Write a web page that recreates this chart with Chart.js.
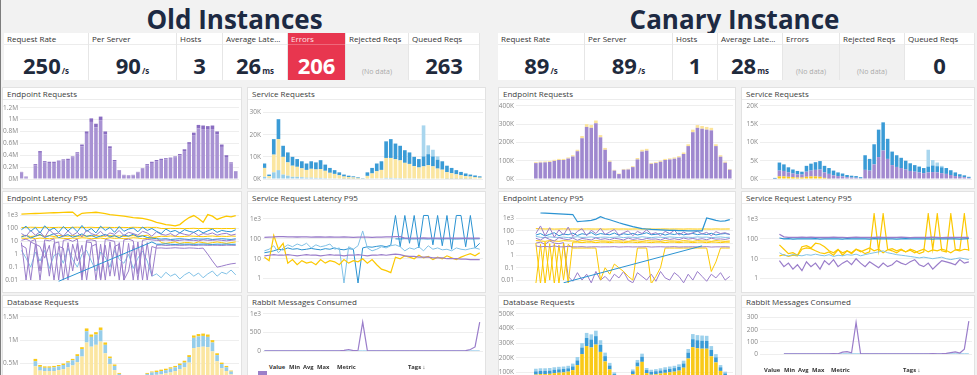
<!DOCTYPE html>
<html>
<head>
<meta charset="utf-8">
<script src="https://cdn.jsdelivr.net/npm/chart.js@4.4.0/dist/chart.umd.min.js"></script>
<style>
  body { margin:0; width:977px; height:375px; overflow:hidden; background:#f2f2f2; font-family:'Open Sans', sans-serif; position:relative; }
  .edge { position:absolute; left:0; top:0; width:1px; height:375px; background:#7d7d7d; }
  .title { position:absolute; top:6px; text-align:center; font-size:26px; font-weight:700; color:#1d2a43; line-height:26px; }
  .tile { position:absolute; top:33px; height:47px; background:#fff; border-right:1px solid #e6e6e6; box-sizing:border-box; }
  .tl { height:11px; line-height:12px; font-size:8px; padding-left:3px; color:#333; border-bottom:1px solid #ececec; white-space:nowrap; overflow:hidden; }
  .tv { position:absolute; left:0; right:0; top:12px; height:35px; text-align:center; font-size:22px; font-weight:700; line-height:41px; color:#1f2a3c; }
  .tv .u { font-size:8px; margin-left:1px; }
  .tv.nd { background:#f1f1f1; color:#aaa; font-size:7px; font-weight:400; line-height:54px; }
  .tile.err { background:#e8364f; }
  .tile.err .tl { color:#fde3e6; border-bottom-color:rgba(255,255,255,0.25); }
  .tile.err .tv { color:#fff; }
  .panel { position:absolute; background:#fff; border:1px solid #e2e2e2; box-sizing:border-box; }
  .pt { height:11px; line-height:12px; font-size:8px; padding-left:4px; color:#3d3d3d; border-bottom:1px solid #ececec; white-space:nowrap; }
  .cw { position:absolute; left:0; right:0; top:12px; }
  .lg { position:absolute; font-size:5.8px; font-weight:700; color:#333; line-height:8px; }
</style>
</head>
<body>
<div class="edge"></div>
<div class="title" style="left:0;width:469px">Old Instances</div>
<div class="title" style="left:492px;width:485px">Canary Instance</div>

<!-- old instances stats -->
<div class="tile" style="left:4px;width:85px"><div class="tl">Request Rate</div><div class="tv">250<span class="u">/s</span></div></div>
<div class="tile" style="left:89px;width:88px"><div class="tl">Per Server</div><div class="tv">90<span class="u">/s</span></div></div>
<div class="tile" style="left:177px;width:46px"><div class="tl">Hosts</div><div class="tv">3</div></div>
<div class="tile" style="left:223px;width:65px"><div class="tl">Average Late...</div><div class="tv">26<span class="u">ms</span></div></div>
<div class="tile err" style="left:288px;width:58px"><div class="tl">Errors</div><div class="tv">206</div></div>
<div class="tile" style="left:346px;width:63px"><div class="tl">Rejected Reqs</div><div class="tv nd">(No data)</div></div>
<div class="tile" style="left:409px;width:71px"><div class="tl">Queued Reqs</div><div class="tv">263</div></div>

<!-- canary stats -->
<div class="tile" style="left:498px;width:87px"><div class="tl">Request Rate</div><div class="tv">89<span class="u">/s</span></div></div>
<div class="tile" style="left:585px;width:88px"><div class="tl">Per Server</div><div class="tv">89<span class="u">/s</span></div></div>
<div class="tile" style="left:673px;width:45px"><div class="tl">Hosts</div><div class="tv">1</div></div>
<div class="tile" style="left:718px;width:65px"><div class="tl">Average Late...</div><div class="tv">28<span class="u">ms</span></div></div>
<div class="tile" style="left:783px;width:57px"><div class="tl">Errors</div><div class="tv nd">(No data)</div></div>
<div class="tile" style="left:840px;width:65px"><div class="tl">Rejected Reqs</div><div class="tv nd">(No data)</div></div>
<div class="tile" style="left:905px;width:70px"><div class="tl">Queued Reqs</div><div class="tv">0</div></div>

<!-- panels -->
<div class="panel" style="left:2px;top:87px;width:240px;height:102px"><div class="pt">Endpoint Requests</div><div class="cw" style="height:89px"><canvas id="oldEndpoint"></canvas></div></div>
<div class="panel" style="left:247px;top:87px;width:239px;height:102px"><div class="pt">Service Requests</div><div class="cw" style="height:89px"><canvas id="oldService"></canvas></div></div>
<div class="panel" style="left:2px;top:191px;width:240px;height:102px"><div class="pt">Endpoint Latency P95</div><div class="cw" style="height:89px"><canvas id="oldEndpointLat"></canvas></div></div>
<div class="panel" style="left:247px;top:191px;width:239px;height:102px"><div class="pt">Service Request Latency P95</div><div class="cw" style="height:89px"><canvas id="oldServiceLat"></canvas></div></div>
<div class="panel" style="left:2px;top:295px;width:240px;height:102px"><div class="pt">Database Requests</div><div class="cw" style="height:89px"><canvas id="oldDb"></canvas></div></div>
<div class="panel" style="left:247px;top:295px;width:239px;height:102px"><div class="pt">Rabbit Messages Consumed</div><div class="cw" style="height:53px"><canvas id="oldRabbit"></canvas></div></div>

<div class="panel" style="left:498px;top:87px;width:238px;height:102px"><div class="pt">Endpoint Requests</div><div class="cw" style="height:89px"><canvas id="canEndpoint"></canvas></div></div>
<div class="panel" style="left:741px;top:87px;width:234px;height:102px"><div class="pt">Service Requests</div><div class="cw" style="height:89px"><canvas id="canService"></canvas></div></div>
<div class="panel" style="left:498px;top:191px;width:238px;height:102px"><div class="pt">Endpoint Latency P95</div><div class="cw" style="height:89px"><canvas id="canEndpointLat"></canvas></div></div>
<div class="panel" style="left:741px;top:191px;width:234px;height:102px"><div class="pt">Service Request Latency P95</div><div class="cw" style="height:89px"><canvas id="canServiceLat"></canvas></div></div>
<div class="panel" style="left:498px;top:295px;width:238px;height:102px"><div class="pt">Database Requests</div><div class="cw" style="height:89px"><canvas id="canDb"></canvas></div></div>
<div class="panel" style="left:741px;top:295px;width:234px;height:102px"><div class="pt">Rabbit Messages Consumed</div><div class="cw" style="height:56px"><canvas id="canRabbit"></canvas></div></div>

<!-- rabbit legend headers -->
<div class="lg" style="left:269px;top:363px">Value</div>
<div class="lg" style="left:289px;top:363px">Min</div>
<div class="lg" style="left:303px;top:363px">Avg</div>
<div class="lg" style="left:317px;top:363px">Max</div>
<div class="lg" style="left:337px;top:363px">Metric</div>
<div class="lg" style="left:408px;top:363px">Tags ↓</div>
<div style="position:absolute;left:258px;top:371px;width:9px;height:6px;background:#9b7fc9"></div>
<div class="lg" style="left:764px;top:366px">Value</div>
<div class="lg" style="left:784px;top:366px">Min</div>
<div class="lg" style="left:798px;top:366px">Avg</div>
<div class="lg" style="left:812px;top:366px">Max</div>
<div class="lg" style="left:831px;top:366px">Metric</div>
<div class="lg" style="left:903px;top:366px">Tags ↓</div>

<script>
const _ = null;

// hourly buckets, hours since Wed 00:00
const hours = [
  4.5, 5.5, 6.5, 7.5, 8.5, 9.5, 10.5, 11.5, 12.5, 13.5,
  14.5, 15.5, 16.5, 17.5, 18.5, 19.5, 20.5, 21.5, 22.5, 23.5,
  24.5, 25.5, 26.5, 27.5, 28.5, 29.5, 30.5, 31.5, 32.5, 33.5,
  34.5, 35.5, 36.5, 37.5, 38.5, 39.5, 40.5, 41.5, 42.5, 43.5,
  44.5, 45.5, 46.5, 47.5, 48.5, 49.5, 50.5
];
const xTickHours = [12, 24, 36, 48];
const xTickLabels = ['12:00', 'Thu 16', '12:00', 'Fri 17'];

const mTicks = [0, 0.2, 0.4, 0.6, 0.8, 1, 1.2];
const mTickLabels = ['0M', '0.2M', '0.4M', '0.6M', '0.8M', '1M', '1.2M'];
const oldSvcTicks = [0, 10, 20, 30];
const oldSvcTickLabels = ['0K', '10K', '20K', '30K'];
const canEpTicks = [0, 100, 200, 300, 400];
const canEpTickLabels = ['0K', '100K', '200K', '300K', '400K'];
const canSvcTicks = [0, 5, 10, 15, 20];
const canSvcTickLabels = ['0K', '5K', '10K', '15K', '20K'];
const latTicks = [0.01, 0.1, 1, 10, 100, 1000];
const latTickLabels = ['0.01', '0.1', '1', '10', '100', '1e3'];
const oldDbTicks = [0, 0.5, 1, 1.5];
const oldDbTickLabels = ['0M', '0.5M', '1M', '1.5M'];
const canDbTicks = [0, 100, 200, 300, 400, 500];
const canDbTickLabels = ['0K', '100K', '200K', '300K', '400K', '500K'];
const oldRabbitTicks = [0, 500, 1000];
const oldRabbitTickLabels = ['0', '500', '1e3'];
const canRabbitTicks = [0, 100, 200, 300];
const canRabbitTickLabels = ['0', '100', '200', '300'];

// ---- old instances: endpoint requests (M)
const oldEpBase = [
  0.11, 0.03, _, 0.23, 0.44, 0.28, 0.27, 0.27, 0.29, 0.31,
  0.32, 0.36, 0.43, 0.55, 0.76, 0.96, 0.87, 0.99, 0.75, 0.52,
  0.30, 0.14, 0.06, 0.05, 0.06, 0.11, 0.17, 0.23, 0.27, 0.30,
  0.32, 0.33, 0.34, 0.36, 0.40, 0.47, 0.59, 0.73, 0.85, 0.84,
  0.83, 0.84, 0.75, 0.54, 0.37, 0.26, 0.12
];
const oldEpTop = [
  0.01, 0.01, _, 0.02, 0.03, 0.02, 0.02, 0.02, 0.02, 0.02,
  0.02, 0.02, 0.02, 0.03, 0.04, 0.06, 0.06, 0.06, 0.05, 0.03,
  0.02, 0.01, 0.01, 0.01, 0.01, 0.01, 0.01, 0.02, 0.02, 0.02,
  0.02, 0.02, 0.02, 0.02, 0.02, 0.03, 0.03, 0.05, 0.06, 0.06,
  0.06, 0.06, 0.05, 0.04, 0.03, 0.02, 0.01
];

// ---- old instances: service requests (K)
const oldSvcLightBlue = [
  1, 0.3, 3, 4, 2, 1.5, 1, 1, 0.8, 0.6,
  0.6, 0.5, 0.5, 0.4, 0.3, 0.3, 0.2, 0.1, 0.1, 0.1,
  0.1, 0, 0.2, 0.3, 0.3, 0.3, 0.5, 0.5, 0.4, 0.4,
  0.3, 0.3, 0.3, 0.2, 0.2, 0.2, 0.2, 0.2, 0.2, 0.1,
  0.1, 0.1, 0.1, 0.1, 0.1, 0, 0
];
const oldSvcYellow = [
  4, 1, 8, 14, 8, 6, 5, 4.5, 4, 3.5,
  4, 3.8, 4, 3.3, 2.5, 2, 1.5, 1, 0.8, 0.6,
  0.4, 0.15, 1.2, 2.2, 3.2, 3.8, 9, 9, 8.5, 8,
  7, 6.5, 5.5, 5, 5.5, 6, 5.5, 4.5, 4, 3,
  2.5, 2, 1.6, 1.2, 1, 0.8, 0.6
];
const oldSvcBlue = [
  2, 0.7, 7, 9, 5, 4.5, 4, 3.5, 3.2, 2.9,
  3.4, 3.2, 4, 2.8, 2.2, 1.7, 1.3, 0.9, 0.6, 0.5,
  0.3, 0.15, 1.6, 2.5, 3.5, 3.9, 7.5, 8.5, 7.1, 6.6,
  5.7, 5.2, 4.2, 3.8, 4.5, 5, 4.5, 4, 3.8, 2.9,
  2.4, 1.9, 1.5, 1.2, 0.9, 0.8, 0.6
];
const oldSvcSpike = [
  0, 0, 0, 0, 0, 0, 0, 0, 0, 0,
  0, 0, 0, 0, 0, 0, 0, 0, 0, 0,
  0, 0, 0, 0, 0, 0, 0, 0, 0, 0,
  0, 0, 0, 0, 14, 4, 3, 1.5, 0, 0,
  0, 0, 0, 0, 0, 0, 0
];

// ---- old instances: endpoint latency p95
const oldLatYellowTop = [
  1300, 1350, 1400, 1450, 1500, 1550, 1600, 1650, 1700, 1750,
  1800, 1850, 900, 1500, 1600, 1700, 1800, 1600, 1400, 1200,
  1100, 1000, 900, 800, 700, 650, 600, 500, 400, 300,
  250, 200, 180, 160, 200, 400, 700, 1000, 600, 300,
  1200, 900, 500, 700, 900, 800, 1000
];
const oldLatYellow120 = [
  120, 118, 125, 122, 119, 124, 121, 118, 123, 120,
  117, 122, 125, 119, 121, 124, 118, 120, 123, 121,
  119, 122, 120, 118, 124, 121, 117, 123, 120, 122,
  100, 98, 102, 99, 101, 97, 100, 103, 98, 100,
  102, 99, 101, 97, 100, 98, 102
];
const oldLatBlue = [
  80, 150, 60, 120, 45, 160, 70, 110, 50, 140,
  65, 130, 55, 170, 60, 100, 45, 150, 70, 120,
  50, 140, 60, 90, 110, 55, 130, 70, 100, 60,
  40, 90, 55, 70, 45, 80, 60, 50, 75, 45,
  65, 90, 50, 70, 60, 55, 80
];
const oldLatBlue20 = [
  22, 30, 18, 25, 35, 20, 28, 40, 19, 26,
  33, 21, 27, 38, 24, 30, 20, 26, 35, 22,
  28, 19, 31, 25, 36, 22, 27, 20, 18, 16,
  15, 16, 14, 15, 16, 15, 14, 16, 15, 15,
  16, 14, 15, 16, 15, 14, 16
];
const oldLatPurple = [
  40, 25, 70, 30, 55, 20, 80, 35, 45, 25,
  65, 30, 50, 22, 75, 40, 30, 60, 25, 45,
  35, 70, 28, 50, 40, 30, 60, 45, 25, 55,
  35, 30, 40, 25, 45, 35, 30, 50, 28, 40,
  35, 45, 30, 38, 42, 30, 36
];
const oldLatPurple12 = [
  12, 15, 10, 14, 0.05, 13, 11, 16, 0.01, 12,
  14, 10, 15, 0.02, 12, 13, 11, 0.01, 14, 12,
  10, 0.01, 13, 15, 11, 0.03, 12, 14, 13, 12,
  12, 13, 12, 11, 12, 13, 12, 12, 11, 13,
  12, 12, 13, 12, 11, 12, 13
];
const oldLatYellow17 = [
  18, 17, 19, 16, 18, 17, 16, 18, 19, 17,
  16, 18, 17, 19, 18, 16, 17, 18, 16, 19,
  17, 18, 16, 17, 19, 18, 16, 17, 18, 19,
  8, 7, 8, 9, 7, 8, 8, 7, 9, 8,
  7, 8, 9, 8, 7, 8, 9
];
const oldLatPurpleDrop = [
  8, 0.01, 9, 6, 0.01, 8, 0.02, 7, 9, 0.01,
  8, 0.05, 7, 0.01, 9, 8, 0.01, 6, 0.01, 9,
  0.02, 8, 0.01, 7, 0.01, 9, 0.01, 8, 0.02, 5,
  5.2, 4.8, 5, 5.1, 4.9, 5, 5.2, 4.8, 5, 5.1,
  4.9, 5, 5, 4.8, 5.1, 5, 4.9
];
const oldLatPurpleDrop2 = [
  5, 3, 0.01, 6, 4, 0.5, 5, 0.01, 4, 3,
  0.01, 6, 0.3, 5, 0.01, 4, 6, 0.01, 5, 0.02,
  4, 6, 0.01, 0.05, 5, 0.01, 6, 0.01, 4, 3,
  3.1, 2.9, 3, 3.2, 3, 2.9, 3.1, 3, 2.8, 3,
  1, 0.3, 0.1, 0.12, 0.15, 0.18, 0.2
];
const oldLatLightBlue = [
  2, 0.5, 0.1, 1.5, 0.3, 2, 0.08, 0.8, 1.2, 0.2,
  3, 0.4, 0.1, 1, 2, 0.3, 0.05, 1.5, 0.6, 0.1,
  2, 0.4, 0.2, 1, 0.08, 0.5, 1.8, 0.3, 0.02, 0.03,
  0.015, 0.04, 0.02, 0.03, 0.012, 0.025, 0.04, 0.02, 0.035, 0.015,
  0.03, 0.05, 0.02, 0.04, 0.03, 0.06, 0.025
];
const oldLatBlueDiag = [
  _, _, _, _, _, _, _, _, 0.008, _,
  _, _, _, _, _, _, _, _, _, _,
  _, _, _, _, _, _, _, _, 9, 6,
  6, 6.5, 6, 5.8, 6.2, 6, 6.1, 5.9, 6, 6.2,
  6, 5.8, 6.1, 6, 6.2, 5.9, 6
];
const oldLatYellow25 = [
  25, 28, 24, 26, 30, 25, 27, 24, 29, 26,
  25, 28, 24, 27, 26, 25, 29, 24, 26, 28,
  25, 27, 24, 26, 28, 25, 27, 30, 20, 22,
  25, 24, 26, 25, 23, 24, 26, 25, 24, 23,
  25, 26, 24, 25, 24, 26, 25
];

// ---- old instances: service request latency p95
const oldSvcLatPurpleTop = [
  120, 122, 125, 130, 128, 126, 125, 124, 126, 125,
  123, 125, 124, 122, 125, 123, 121, 124, 122, 120,
  123, 121, 122, 120, 121, 123, 125, 127, 128, 130,
  110, 108, 110, 109, 111, 110, 108, 110, 109, 110,
  108, 109, 110, 107, 109, 108, 110
];
const oldSvcLatPurpleLow = [
  14, 15, 16, 15, 15, 16, 15, 14, 15, 16,
  15, 15, 14, 15, 16, 15, 15, 14, 15, 15,
  16, 15, 14, 15, 15, 16, 15, 16, 17, 16,
  14, 13, 13, 12, 12, 12, 11, 11, 11, 10,
  10, 10, 9.5, 9.5, 9, 9, 9
];
const oldSvcLatYellow = [
  12, 8, 150, 30, 60, 6, 9, 5, 8, 6,
  7, 5, 9, 6, 8, 7, 5, 9, 6, 8,
  7, 10, 6, 9, 5, 3, 2.5, 2, 12, 10,
  14, 12, 10, 15, 11, 13, 9, 12, 10, 14,
  11, 9, 12, 15, 18, 14, 20
];
const oldSvcLatLightBlue = [
  25, 30, 45, 20, 35, 50, 40, 55, 45, 60,
  35, 50, 40, 45, 55, 30, 35, 0.6, 40, 30,
  45, 250, 35, 25, 30, 40, 35, 45, 50, 40,
  25, 35, 30, 40, 25, 45, 30, 35, 28, 30,
  25, 35, 30, 28, 32, 35, 30
];
const oldSvcLatBlue = [
  20, 22, 25, 30, 28, 35, 30, 32, 28, 30,
  33, 30, 28, 32, 30, 35, 30, 28, 32, 30,
  0.6, 35, 40, 38, 42, 45, 40, 48, 1500, 40,
  1500, 60, 1500, 35, 1500, 1500, 50, 1500, 45, 1500,
  30, 1500, 1500, 40, 1500, 35, 60
];
const oldSvcLatBlueFlat = [
  _, _, _, _, _, _, _, _, _, _,
  _, _, _, _, _, _, _, _, _, _,
  _, _, _, _, _, _, _, _, 100, 98,
  102, 100, 99, 101, 100, 98, 102, 100, 99, 101,
  100, 98, 100, 102, 99, 100, 101
];

// ---- old instances: database requests (M)
const oldDbBase = [
  0.07, 0.03, _, 0.44, 0.35, 0.34, 0.34, 0.34, 0.36, 0.38,
  0.42, 0.46, 0.53, 0.65, 0.95, 0.86, 0.90, 0.97, 0.72, 0.49,
  0.36, 0.23, 0.14, 0.10, 0.11, 0.14, 0.18, 0.23, 0.25, 0.26,
  0.27, 0.29, 0.31, 0.34, 0.38, 0.42, 0.52, 0.83, 0.85, 0.86,
  0.85, 0.76, 0.55, 0.40, 0.34, 0.27, 0.16
];
const oldDbMid = [
  0.02, 0.01, _, 0.11, 0.08, 0.07, 0.07, 0.08, 0.08, 0.09,
  0.10, 0.11, 0.13, 0.16, 0.24, 0.21, 0.22, 0.24, 0.18, 0.12,
  0.09, 0.05, 0.03, 0.03, 0.03, 0.04, 0.05, 0.05, 0.06, 0.06,
  0.07, 0.07, 0.08, 0.08, 0.09, 0.10, 0.12, 0.22, 0.23, 0.23,
  0.22, 0.19, 0.13, 0.09, 0.08, 0.06, 0.04
];
const oldDbTop = [
  0.01, 0.01, _, 0.05, 0.04, 0.03, 0.03, 0.03, 0.03, 0.03,
  0.03, 0.03, 0.04, 0.04, 0.06, 0.05, 0.05, 0.06, 0.05, 0.04,
  0.03, 0.02, 0.01, 0.01, 0.01, 0.02, 0.02, 0.02, 0.02, 0.03,
  0.03, 0.03, 0.03, 0.03, 0.03, 0.04, 0.04, 0.05, 0.05, 0.05,
  0.05, 0.05, 0.04, 0.03, 0.03, 0.02, 0.02
];

// ---- old instances: rabbit messages
const oldRabbitPurple = [
  3, 2, 3, 4, 3, 2, 3, 3, 2, 3,
  4, 3, 2, 3, 3, 2, 5, 15, 40, 10,
  20, 780, 5, 3, 2, 3, 4, 3, 2, 3,
  3, 2, 4, 3, 3, 2, 3, 4, 3, 5,
  4, 6, 5, 8, 40, 110, 780
];
const oldRabbitBlue = [
  1, 1, 1, 1, 1, 1, 1, 1, 1, 1,
  1, 1, 1, 1, 1, 1, 1, 2, 1, 1,
  1, 2, 1, 1, 1, 1, 1, 1, 1, 1,
  1, 1, 1, 1, 1, 1, 1, 1, 1, 1,
  1, 1, 1, 1, 2, 1, 1
];

// ---- canary: endpoint requests (K)
const canEpPurple = [
  _, _, _, _, 87, 90, 91, 93, 99, 104,
  104, 112, 123, 152, 223, 285, 280, 305, 228, 160,
  94, 46, 27, 51, 52, 65, 107, 150, 155, 83,
  87, 94, 104, 107, 111, 118, 137, 180, 256, 280,
  275, 270, 266, 180, 122, 89, 51
];
const canEpYellow = [
  _, _, _, _, 5, 5, 5, 5, 6, 6,
  6, 6, 7, 8, 12, 15, 15, 15, 12, 10,
  6, 4, 3, 4, 4, 5, 8, 10, 10, 5,
  5, 6, 6, 6, 7, 7, 8, 10, 14, 15,
  15, 15, 14, 10, 8, 6, 4
];

// ---- canary: service requests (K)
const canSvcYellow = [
  _, _, _, 0, 0.7, 0.7, 0.6, 0.5, 0.4, 0.4,
  0.6, 0.7, 0.7, 0.6, 0.3, 0.1, 0, 0, 0, 0,
  0, 0, 0, 0, 0, 0, 0, 0, 0, 0,
  0, 0, 0, 0, 0, 0, 0, 0, 0, 0,
  0, 0, 0, 0, 0, 0, 0
];
const canSvcPurple = [
  _, _, _, 0.1, 1.6, 1.5, 1.2, 1.0, 0.9, 0.8,
  1.4, 1.6, 1.8, 2.0, 1.5, 1.3, 1.0, 0.8, 0.7, 0.5,
  0.4, 0.35, 0.2, 2.5, 2.3, 4, 6, 7.8, 5.5, 3.8,
  3.3, 3, 2.6, 2.2, 2, 1.8, 1.6, 1.8, 1.9, 1.8,
  1.6, 1.4, 1.1, 0.8, 0.6, 0.5, 0.3
];
const canSvcBlue = [
  _, _, _, 0.2, 2.2, 1.8, 1.4, 1.1, 0.9, 0.8,
  1.6, 1.9, 2.1, 2.3, 1.8, 1.6, 1.3, 1.0, 0.8, 0.6,
  0.5, 0.45, 0.3, 4, 3.2, 5.5, 7.5, 7.7, 5.5, 3.7,
  3.2, 2.8, 2.4, 2.1, 1.8, 1.6, 1.4, 1.6, 1.8, 1.7,
  1.6, 1.6, 1.3, 1.0, 0.7, 0.5, 0.3
];
const canSvcSpike = [
  _, _, _, 0, 0, 0, 0, 0, 0, 0,
  0, 0, 0, 0, 0, 0, 0, 0, 0, 0,
  0, 0, 0, 0, 0, 0, 0, 0, 0, 0,
  0, 0, 0, 0, 0, 0, 0, 4.6, 1.5, 1.0,
  0.4, 0, 0, 0, 0, 0, 0
];

// ---- canary: endpoint latency p95
const canLatBlueTop = [
  _, _, _, _, _, 2800, 2700, 2600, 2500, 2400,
  2300, 2200, 2100, 550, 600, 650, 700, 900, 1400, 1000,
  800, 600, 450, 350, 280, 220, 180, 150, 140, 130,
  125, 120, 115, 110, 110, 105, 105, 100, 100, 100,
  100, 1100, 900, 700, 600, 650, 800
];
const canLatYellow140 = [
  _, _, _, _, 150, 145, 140, 142, 138, 140,
  143, 139, 141, 140, 138, 142, 140, 139, 141, 137,
  140, 142, 139, 141, 138, 140, 143, 139, 140, 141,
  138, 140, 142, 139, 141, 140, 138, 142, 140, 139,
  141, 140, 138, 142, 139, 140, 141
];
const canLatPurple = [
  _, _, _, _, 60, 250, 40, 180, 30, 120,
  45, 200, 35, 90, 150, 40, 110, 60, 160, 50,
  80, 130, 45, 70, 100, 40, 90, 60, 120, 55,
  70, 40, 90, 60, 110, 45, 80, 50, 70, 95,
  55, 75, 40, 85, 60, 70, 50
];
const canLatPurple20 = [
  _, _, _, _, 25, 18, 30, 20, 15, 28,
  22, 19, 26, 17, 24, 21, 18, 27, 20, 23,
  19, 25, 22, 18, 26, 20, 23, 19, 24, 21,
  22, 18, 25, 20, 23, 19, 26, 21, 24, 20,
  23, 19, 25, 21, 22, 20, 24
];
const canLatBlue50 = [
  _, _, _, _, 45, 60, 38, 52, 70, 40,
  55, 48, 65, 42, 58, 50, 72, 45, 60, 52,
  48, 66, 44, 58, 50, 62, 46, 55, 70, 48,
  52, 60, 45, 58, 50, 64, 47, 55, 61, 49,
  57, 50, 63, 46, 55, 60, 52
];
const canLatLightBlue = [
  _, _, _, _, 35, 30, 28, 32, 30, 29,
  31, 28, 30, 33, 29, 30, 32, 28, 30, 31,
  29, 30, 32, 28, 31, 30, 29, 33, 30, 28,
  31, 30, 29, 32, 30, 28, 31, 30, 29, 32,
  30, 31, 28, 30, 32, 29, 30
];
const canLatYellow15 = [
  _, _, _, _, 16, 15, 14, 16, 15, 14,
  16, 15, 15, 14, 16, 15, 14, 16, 15, 15,
  14, 16, 15, 15, 14, 16, 15, 14, 16, 15,
  15, 14, 16, 15, 15, 14, 16, 15, 14, 16,
  15, 15, 14, 16, 15, 14, 15
];
const canLatYellowDrop = [
  _, _, _, _, 0.005, 8, 0.005, 9, 0.005, 7,
  0.01, 8, 4, 4, 4, 4, 4, 4, 0.01, 0.1,
  0.03, 0.2, 0.1, 0.05, 0.02, 0.01, 4, 4, 4, 0.005,
  0.02, 0.1, 4, 4, 4, 4, 4, 4, 4, 4,
  4, 4, 0.05, 0.3, 4, 4, 4
];
const canLatPurpleLow = [
  _, _, _, _, 10, 12, 8, 15, 10, 9,
  11, 0.02, 0.008, 0.04, 0.01, 0.03, 0.006, 0.05, 0.01, 0.02,
  0.008, 0.03, 0.015, 0.05, 0.01, 0.006, 0.04, 0.02, 0.01, 0.03,
  0.008, 0.05, 0.015, 0.01, 0.04, 0.02, 0.006, 0.03, 0.01, 0.05,
  0.02, 0.008, 0.03, 0.015, 0.04, 0.01, 0.02
];
const canLatBlueDiag = [
  _, _, _, _, _, _, _, _, _, _,
  0.006, _, _, _, _, _, _, _, _, _,
  _, _, _, _, _, _, _, _, _, _,
  _, _, _, _, _, _, _, _, _, _,
  6, _, _, _, _, _, _
];
const canLatYellowDrop2 = [
  _, _, _, _, 10, 0.005, 12, 0.01, 9, 0.005,
  10, 0.005, 12, 12, 11, 12, 12, 11, 12, 12,
  11, 12, 12, 11, 12, 12, 11, 12, 12, 11,
  12, 12, 11, 12, 12, 11, 12, 12, 11, 12,
  12, 11, 12, 12, 11, 12, 12
];
const canLatPurple5 = [
  _, _, _, _, 6, 5, 5.5, 5, 6, 5,
  5, 5.5, 5, 5, 5.2, 4.8, 5, 5.1, 4.9, 5,
  5, 5.2, 4.8, 5, 5.1, 4.9, 5, 5, 5.2, 4.8,
  5, 5.1, 4.9, 5, 5.2, 4.8, 5, 5, 5.1, 4.9,
  5, 5.2, 4.8, 5, 5, 5.1, 4.9
];

// ---- canary: service request latency p95
const canSvcLatPurpleTop = [
  _, _, _, _, 170, 125, 120, 118, 120, 122,
  119, 121, 118, 120, 117, 119, 121, 118, 120, 116,
  119, 121, 118, 120, 117, 119, 122, 118, 120, 117,
  119, 121, 118, 116, 119, 120, 117, 119, 121, 118,
  116, 119, 117, 118, 120, 117, 119
];
const canSvcLatBlue = [
  _, _, _, _, 110, 100, 102, 98, 100, 101,
  99, 100, 102, 98, 100, 101, 99, 100, 98, 102,
  100, 99, 101, 100, 98, 102, 100, 99, 101, 100,
  98, 100, 102, 99, 100, 101, 99, 100, 98, 101,
  100, 99, 101, 100, 98, 100, 102
];
const canSvcLatYellowSpikes = [
  _, _, _, _, 50, 30, 18, 20, 15, 40,
  45, 35, 60, 55, 40, 25, 20, 30, 15, 25,
  20, 30, 25, 18, 22, 1800, 25, 1800, 30, 25,
  20, 28, 22, 30, 25, 18, 22, 1800, 30, 1800,
  25, 22, 1800, 30, 28, 1800, 25
];
const canSvcLatLightBlue = [
  _, _, _, _, 20, 15, 14, 16, 15, 14,
  16, 15, 17, 15, 14, 16, 13, 15, 14, 16,
  15, 17, 14, 16, 18, 20, 22, 25, 20, 18,
  16, 15, 14, 13, 12, 11, 12, 11, 10, 11,
  12, 10, 9, 10, 11, 10, 9
];
const canSvcLatPurpleLow = [
  _, _, _, _, 8, 4, 6, 3, 5, 2.5,
  7, 4, 6, 3, 8, 5, 9, 4, 6, 8,
  5, 10, 6, 4, 7, 5, 3.5, 6, 4, 5,
  8, 6, 5, 7, 9, 5, 4, 6, 3, 5,
  8, 7, 6, 5, 9, 6, 7
];
const canSvcLatYellow = [
  _, _, _, _, 14, 16, 13, 15, 14, 30,
  35, 32, 25, 20, 18, 22, 15, 28, 20, 25,
  18, 30, 22, 28, 35, 25, 30, 20, 28, 32,
  25, 30, 22, 27, 20, 25, 30, 22, 28, 25,
  30, 26, 20, 28, 25, 30, 28
];

// ---- canary: database requests (K)
const canDbYellow = [
  _, _, _, _, 85, 88, 88, 90, 95, 98,
  100, 105, 115, 150, 225, 280, 270, 290, 240, 175,
  120, 70, 45, 50, 58, 88, 140, 172, 95, 84,
  87, 92, 97, 101, 105, 112, 132, 195, 272, 265,
  262, 262, 210, 168, 110, 75, 56
];
const canDbBlue = [
  _, _, _, _, 22, 22, 22, 22, 23, 23,
  23, 23, 26, 32, 45, 55, 55, 58, 48, 36,
  27, 18, 12, 12, 13, 20, 28, 35, 21, 20,
  21, 21, 22, 23, 24, 26, 29, 40, 55, 55,
  55, 53, 43, 35, 25, 18, 14
];
const canDbLightBlue = [
  _, _, _, _, 18, 18, 18, 18, 17, 17,
  17, 17, 19, 23, 30, 35, 35, 37, 32, 24,
  18, 12, 8, 8, 9, 12, 17, 21, 14, 14,
  14, 15, 16, 16, 16, 17, 19, 25, 35, 35,
  35, 35, 27, 22, 15, 12, 10
];

// ---- canary: rabbit messages
const canRabbitPurple = [
  _, _, _, _, _, 1, 1, 2, 1, 1,
  2, 1, 1, 2, 1, 2, 3, 2, 15, 20,
  10, 260, 2, 2, 1, 1, 2, 1, 1, 2,
  1, 2, 1, 1, 2, 1, 2, 2, 3, 2,
  3, 5, 12, 18, 8, 40, 270
];
const canRabbitBlue = [
  _, _, _, _, _, 1, 1, 1, 1, 1,
  1, 1, 1, 1, 1, 1, 1, 1, 1, 1,
  1, 1, 1, 1, 1, 1, 1, 1, 1, 1,
  1, 1, 1, 1, 1, 1, 1, 1, 1, 1,
  1, 1, 1, 1, 1, 1, 1
];

Chart.defaults.font.family = "'Open Sans', sans-serif";
Chart.defaults.font.size = 6.5;
Chart.defaults.color = '#888';

const xMin = 4.2, xMax = 51.2;

function xAxis(stacked) {
  return {
    type: 'linear', min: xMin, max: xMax, stacked: stacked, offset: false,
    grid: { display: false }, border: { display: false },
    ticks: { padding: 1, maxRotation: 0, autoSkip: false,
      callback: (v) => xTickLabels[xTickHours.indexOf(v)] },
    afterBuildTicks: (s) => { s.ticks = xTickHours.map((v) => ({ value: v })); },
    afterFit: (s) => { s.height = 10; }
  };
}

function yAxis(o) {
  return {
    type: o.log ? 'logarithmic' : 'linear',
    min: o.min, max: o.max, stacked: !!o.stacked,
    grid: { color: '#eeeeee', drawTicks: false }, border: { display: false },
    ticks: { padding: 2, autoSkip: false,
      callback: (v) => o.labels[o.ticks.indexOf(v)] },
    afterBuildTicks: (s) => {
      s.ticks = o.ticks.filter((v) => v >= s.min && v <= s.max).map((v) => ({ value: v }));
    },
    afterFit: (s) => { s.width = o.width; }
  };
}

function draw(id, type, datasets, y, padTop) {
  new Chart(document.getElementById(id), {
    type: type,
    data: { labels: hours, datasets: datasets },
    options: {
      responsive: true, maintainAspectRatio: false, animation: false,
      layout: { padding: { top: padTop || 0, right: 2, left: 0, bottom: 0 } },
      plugins: { legend: { display: false }, tooltip: { enabled: false } },
      scales: { x: xAxis(type === 'bar'), y: yAxis(y) }
    }
  });
}

function bar(color, data) {
  return { data: data, backgroundColor: color, borderWidth: 0, barPercentage: 0.78, categoryPercentage: 1 };
}
function line(color, data, w, gaps) {
  return { data: data, borderColor: color, borderWidth: w || 1, pointRadius: 0, tension: 0, spanGaps: !!gaps, fill: false };
}

const PURPLE = '#a892d3', PURPLE_DARK = '#8a6dc1', PALE = '#fbe6a1', YELLOW = '#f9c918',
      BLUE = '#3a9bd6', LBLUE = '#96cdea';
const L_PURPLE = '#9a7dca', L_YELLOW = '#fcc800', L_BLUE = '#2b93d2', L_LBLUE = '#80c1e6';

// old instances
draw('oldEndpoint', 'bar', [bar(PURPLE, oldEpBase), bar(PURPLE_DARK, oldEpTop)],
  { min: 0, max: 1.23, stacked: true, ticks: mTicks, labels: mTickLabels, width: 17 });
draw('oldService', 'bar', [bar(LBLUE, oldSvcLightBlue), bar(PALE, oldSvcYellow), bar(BLUE, oldSvcBlue), bar('#a9d6ee', oldSvcSpike)],
  { min: 0, max: 33, stacked: true, ticks: oldSvcTicks, labels: oldSvcTickLabels, width: 15 });
draw('oldEndpointLat', 'line', [
  line(L_BLUE, oldLatBlueDiag, 1, true),
  line(L_PURPLE, oldLatPurpleDrop2),
  line(L_PURPLE, oldLatPurpleDrop),
  line(L_BLUE, oldLatBlue),
  line(L_PURPLE, oldLatPurple),
  line(L_PURPLE, oldLatPurple12),
  line(L_BLUE, oldLatBlue20),
  line(L_LBLUE, oldLatLightBlue),
  line(L_YELLOW, oldLatYellowTop, 1.3),
  line(L_YELLOW, oldLatYellow120),
  line(L_YELLOW, oldLatYellow17),
  line(L_YELLOW, oldLatYellow25)
], { log: true, min: 0.0059, max: 2750, ticks: latTicks, labels: latTickLabels, width: 17 });
draw('oldServiceLat', 'line', [
  line(L_PURPLE, oldSvcLatPurpleTop, 1.3),
  line(L_BLUE, oldSvcLatBlueFlat),
  line(L_PURPLE, oldSvcLatPurpleLow, 1.2),
  line(L_YELLOW, oldSvcLatYellow, 1.2),
  line(L_LBLUE, oldSvcLatLightBlue),
  line(L_BLUE, oldSvcLatBlue)
], { log: true, min: 0.63, max: 2000, ticks: latTicks, labels: latTickLabels, width: 15 }, 9);
draw('oldDb', 'bar', [bar(PALE, oldDbBase), bar(LBLUE, oldDbMid), bar(YELLOW, oldDbTop)],
  { min: 0, max: 1.56, stacked: true, ticks: oldDbTicks, labels: oldDbTickLabels, width: 17 });
draw('oldRabbit', 'line', [line(L_PURPLE, oldRabbitPurple, 1.2), line(L_LBLUE, oldRabbitBlue)],
  { min: 0, max: 1000, ticks: oldRabbitTicks, labels: oldRabbitTickLabels, width: 15 });

// canary
draw('canEndpoint', 'bar', [bar('#9f88cf', canEpPurple), bar('#fbe39a', canEpYellow)],
  { min: 0, max: 400, stacked: true, ticks: canEpTicks, labels: canEpTickLabels, width: 17 });
draw('canService', 'bar', [bar(YELLOW, canSvcYellow), bar('#a28ad0', canSvcPurple), bar(BLUE, canSvcBlue), bar('#a9d6ee', canSvcSpike)],
  { min: 0, max: 20, stacked: true, ticks: canSvcTicks, labels: canSvcTickLabels, width: 18 });
draw('canEndpointLat', 'line', [
  line(L_BLUE, canLatBlueDiag, 1, true),
  line(L_BLUE, canLatBlueTop, 1.2),
  line(L_PURPLE, canLatPurple),
  line(L_PURPLE, canLatPurple20),
  line(L_BLUE, canLatBlue50),
  line(L_PURPLE, canLatPurple5),
  line(L_LBLUE, canLatLightBlue),
  line(L_YELLOW, canLatYellow140),
  line(L_YELLOW, canLatYellow15),
  line(L_YELLOW, canLatYellowDrop2),
  line(L_YELLOW, canLatYellowDrop),
  line(L_PURPLE, canLatPurpleLow)
], { log: true, min: 0.0058, max: 5000, ticks: latTicks, labels: latTickLabels, width: 17 });
draw('canServiceLat', 'line', [
  line(L_PURPLE, canSvcLatPurpleTop, 1.3),
  line(L_BLUE, canSvcLatBlue, 1.2),
  line(L_LBLUE, canSvcLatLightBlue),
  line(L_PURPLE, canSvcLatPurpleLow, 1.2),
  line(L_YELLOW, canSvcLatYellow, 1.2),
  line(L_YELLOW, canSvcLatYellowSpikes, 1.2)
], { log: true, min: 0.63, max: 2000, ticks: latTicks, labels: latTickLabels, width: 18 }, 9);
draw('canDb', 'bar', [bar(YELLOW, canDbYellow), bar(BLUE, canDbBlue), bar('#9dd1ec', canDbLightBlue)],
  { min: 0, max: 500, stacked: true, ticks: canDbTicks, labels: canDbTickLabels, width: 17 });
draw('canRabbit', 'line', [line(L_PURPLE, canRabbitPurple, 1.2), line(L_LBLUE, canRabbitBlue)],
  { min: 0, max: 330, ticks: canRabbitTicks, labels: canRabbitTickLabels, width: 18 });
</script>
</body>
</html>
